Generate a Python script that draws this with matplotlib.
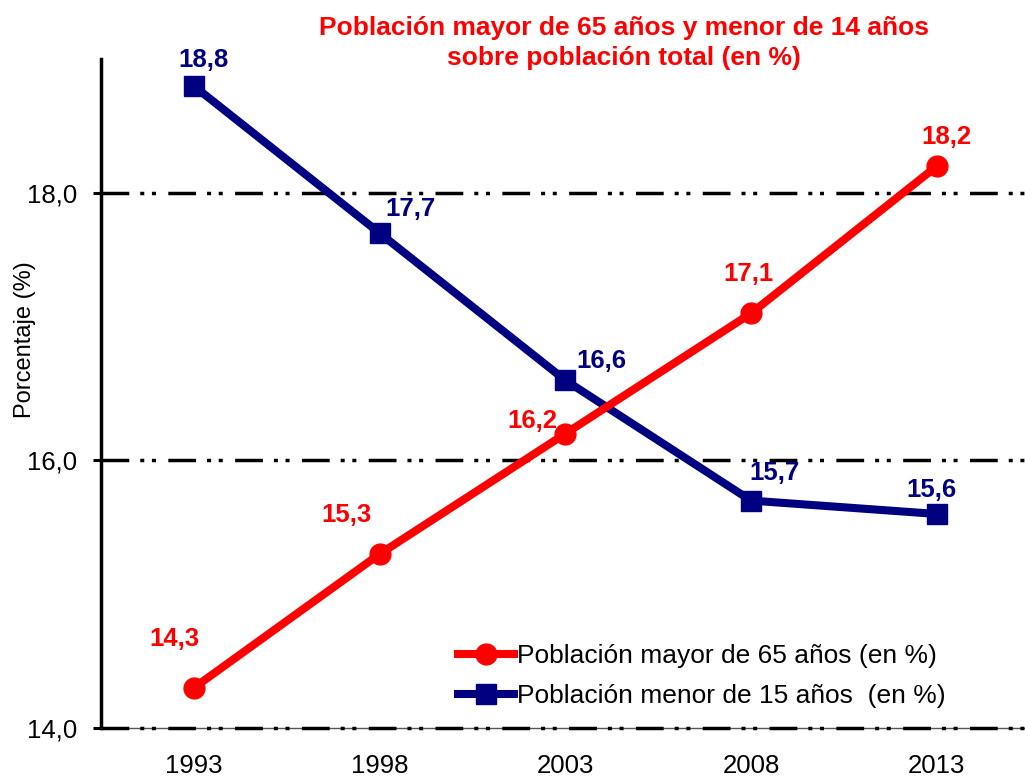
import matplotlib
matplotlib.use("Agg")
import matplotlib.pyplot as plt

plt.rcParams["font.family"] = ["Liberation Sans", "DejaVu Sans"]
plt.rcParams["lines.scale_dashes"] = False

years = ["1993", "1998", "2003", "2008", "2013"]
mayor_65 = [14.3, 15.3, 16.2, 17.1, 18.2]
menor_15 = [18.8, 17.7, 16.6, 15.7, 15.6]
ytick_values = [14, 16, 18]
ytick_labels = ["14,0", "16,0", "18,0"]

# label offsets in points (dx, dy)
red_offsets = [(-14, 35), (-24, 28), (-24, 9), (-2, 28), (7, 21)]
blue_offsets = [(7, 19), (22, 17), (26, 14), (17, 20), (-4, 17)]

red = "#FF0000"
navy = "#000080"

fig = plt.figure(figsize=(10.25, 7.79), dpi=100)
ax = fig.add_axes([0.0985, 0.0655, 0.906, 0.8585])

x = list(range(len(years)))
ax.plot(x, mayor_65, color=red, lw=5.8, marker="o", ms=15,
        label="Población mayor de 65 años (en %)", zorder=4)
ax.plot(x, menor_15, color=navy, lw=5.8, marker="s", ms=14,
        label="Población menor de 15 años  (en %)", zorder=3)

for xi, v, off in zip(x, mayor_65, red_offsets):
    ax.annotate(f"{v:.1f}".replace(".", ","), (xi, v), xytext=off,
                textcoords="offset points", ha="center", va="center",
                color=red, fontsize=18.5, fontweight="bold")
for xi, v, off in zip(x, menor_15, blue_offsets):
    ax.annotate(f"{v:.1f}".replace(".", ","), (xi, v), xytext=off,
                textcoords="offset points", ha="center", va="center",
                color=navy, fontsize=18.5, fontweight="bold")

ax.set_xlim(-0.5, 4.5)
ax.set_ylim(14, 19)
ax.set_xticks(x)
ax.set_xticklabels(years)
ax.set_yticks(ytick_values)
ax.set_yticklabels(ytick_labels)
ax.tick_params(axis="x", length=0, pad=19, labelsize=18.5)
ax.tick_params(axis="y", length=6, width=2.2, pad=11, labelsize=18.5)

# dash-dot-dot horizontal gridlines, drawn over the thin bottom axis line
for yv in ytick_values:
    ax.axhline(yv, color="black", lw=2.5, clip_on=False, zorder=2.7,
               linestyle=(0, (20, 7.9, 2.9, 5.5, 2.9, 8.9)))

for s in ["top", "right"]:
    ax.spines[s].set_visible(False)
ax.spines["left"].set_linewidth(2.5)
ax.spines["bottom"].set_linewidth(1)
ax.spines["bottom"].set_color("#555555")

ax.set_ylabel("Porcentaje (%)", fontsize=17)
ax.yaxis.set_label_coords(-0.07, 0.58)

fig.text(0.609, 0.98, "Población mayor de 65 años y menor de 14 años\nsobre población total (en %)",
         ha="center", va="top", color=red, fontsize=19, fontweight="bold",
         linespacing=1.35)

ax.legend(loc="lower left", bbox_to_anchor=(0.385, 0.03), frameon=False,
          fontsize=19, handlelength=2.1, handletextpad=0.1, labelspacing=0.6,
          borderpad=0, borderaxespad=0)

fig.savefig("out.png", dpi=100)
